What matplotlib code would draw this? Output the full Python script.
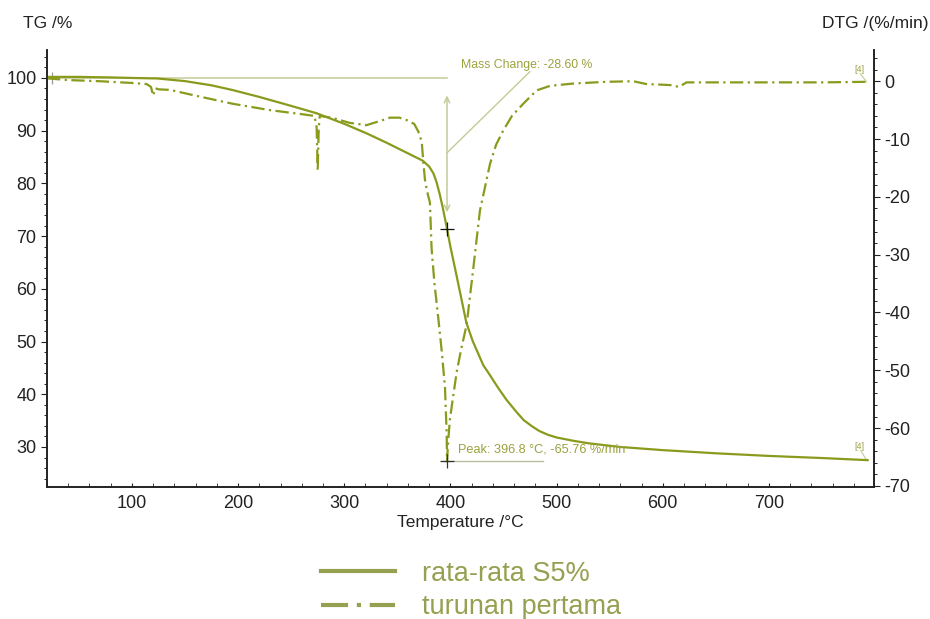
import matplotlib.pyplot as plt
from matplotlib.lines import Line2D
from matplotlib.ticker import MultipleLocator

plt.rcParams["font.family"] = ["Liberation Sans", "DejaVu Sans"]
plt.rcParams["axes.unicode_minus"] = False

# TG curve (left axis, %)
tg_temp = [20, 50, 80, 100, 124, 150, 175, 195, 220, 250, 274, 300, 321,
           340, 360, 374, 380, 384, 387, 390, 393, 396.8, 400, 406, 415, 421,
           431, 437, 445, 453, 462, 469, 477, 484, 492, 500, 515, 530, 560,
           600, 650, 700, 750, 793]
tg_mass = [100.2, 100.2, 100.1, 100.0, 99.9, 99.4, 98.6, 97.7, 96.4, 94.7,
           93.3, 91.3, 89.5, 87.7, 85.7, 84.3, 83.2, 81.9, 80.2, 77.9, 75.2,
           71.4, 68.0, 62.3, 53.6, 50.1, 45.5, 43.7, 41.2, 38.9, 36.7, 35.1,
           33.9, 33.0, 32.3, 31.8, 31.2, 30.7, 30.0, 29.4, 28.8, 28.3, 27.9,
           27.5]

# DTG curve (right axis, %/min)
dtg_temp = [20, 40, 70, 100, 114, 118, 120, 122, 125, 136, 160, 195, 230,
            260, 272, 274, 275, 276, 277, 280, 288, 305, 321, 335, 343, 352,
            360, 366, 370, 373, 374.5, 376, 378, 380.7, 382.3, 385, 388.6,
            392, 394.9, 396.5, 396.8, 398, 399.6, 403, 405.9, 410, 415.3,
            421.6, 427.8, 437.3, 443, 449.8, 458, 468.6, 481.1, 493.8, 515.7,
            547, 572.3, 584.9, 600, 609.9, 615, 622.4, 650, 700, 750, 793]
dtg_rate = [0.5, 0.2, 0.0, -0.3, -0.5, -1.0, -2.5, -1.2, -1.4, -1.5, -2.5,
            -3.9, -5.0, -5.7, -6.0, -8.0, -15.5, -8.0, -6.0, -6.1, -6.3,
            -7.2, -7.6, -6.8, -6.3, -6.3, -6.8, -7.4, -8.8, -10.5, -14.0,
            -17.0, -19.0, -21.0, -29.0, -35.0, -41.0, -47.0, -53.0, -61.0,
            -65.76, -62.0, -58.4, -54.0, -50.3, -46.5, -42.1, -32.3, -22.4,
            -14.3, -11.0, -8.5, -6.0, -3.9, -1.6, -0.8, -0.4, -0.1, 0.0,
            -0.5, -0.6, -0.7, -1.0, -0.2, -0.2, -0.2, -0.2, -0.1]

peak_temp = 396.8
peak_rate = -65.76
mass_start = 100.0
mass_at_peak = 71.4
labels = ["rata-rata S5%", "turunan pertama"]

LINE = "#8a9a1c"
LIGHT = "#c3cb96"
TEXT_OLIVE = "#9ba23e"
LEG = "#96a050"

fig = plt.figure(figsize=(9.3, 6.19), dpi=100)
ax = fig.add_axes([0.0505, 0.2132, 0.8893, 0.706])
ax2 = ax.twinx()

ax.plot(tg_temp, tg_mass, color=LINE, lw=1.6, zorder=3)
ax2.plot(dtg_temp, dtg_rate, color=LINE, lw=1.6, dashes=(6, 2, 1, 2))

ax.set_xlim(20, 799)
ax.set_ylim(22.4, 105.3)
ax2.set_ylim(-70.2, 5.4)

ax.spines["top"].set_visible(False)
ax2.spines["top"].set_visible(False)
for a in (ax, ax2):
    for s in a.spines.values():
        s.set_color("#222222")
        s.set_linewidth(1.2)

ax.xaxis.set_major_locator(MultipleLocator(100))
ax.xaxis.set_minor_locator(MultipleLocator(20))
ax.yaxis.set_major_locator(MultipleLocator(10))
ax.yaxis.set_minor_locator(MultipleLocator(2))
ax2.yaxis.set_major_locator(MultipleLocator(10))
ax2.yaxis.set_minor_locator(MultipleLocator(2))

ax.tick_params(axis="x", which="both", direction="in", length=3,
               labelsize=13, colors="#222222", pad=6)
ax.tick_params(axis="y", which="major", direction="out", length=4,
               labelsize=13, colors="#222222")
ax.tick_params(axis="y", which="minor", direction="out", length=2)
ax2.tick_params(axis="y", which="major", direction="out", length=4,
                labelsize=13, colors="#222222")
ax2.tick_params(axis="y", which="minor", direction="out", length=2)
ax.set_xticks([t for t in ax.get_xticks() if 100 <= t <= 700])

ax.set_xlabel("Temperature /°C", fontsize=12.5, color="#222222", labelpad=2)
fig.text(0.025, 0.962, "TG /%", fontsize=12.5, color="#222222", va="center")
fig.text(0.998, 0.962, "DTG /(%/min)", fontsize=12.5, color="#222222",
         va="center", ha="right")

# mass change annotation
ax.plot([25, peak_temp], [mass_start, mass_start], color=LIGHT, lw=1.1,
        zorder=2)
ax.annotate("", xy=(peak_temp, 74.0), xytext=(peak_temp, 97.2),
            arrowprops=dict(arrowstyle="<->", color=LIGHT, lw=1.1,
                            mutation_scale=10))
ax.plot([peak_temp, 474.9], [85.8, 101.2], color=LIGHT, lw=1.0)
ax.text(409.7, 102.5, "Mass Change: -28.60 %", fontsize=8.8,
        color=TEXT_OLIVE, va="center")
ax.plot(peak_temp, mass_at_peak, marker="+", color="#111111", ms=10,
        mew=0.9, zorder=5)
ax.plot(25, mass_start, marker="+", color="#999999", ms=8, mew=0.9)

# peak annotation
ax2.plot([391.7, 487], [peak_rate, peak_rate], color="#b8bfa0", lw=1.0)
ax2.plot(peak_temp, peak_rate, marker="+", color="#333333", ms=10,
         mew=0.9, zorder=5)
ax2.text(407.4, -64.7, "Peak: 396.8 °C, -65.76 %/min", fontsize=9.2,
         color=TEXT_OLIVE, va="bottom")

# curve end markers
ax2.text(785, 1.2, "[4]", fontsize=6.5, color=TEXT_OLIVE, ha="center",
         va="bottom")
ax2.plot([786, 792], [1.3, -0.1], color=LIGHT, lw=0.8)
ax.text(785.5, 29.2, "[4]", fontsize=6.5, color=TEXT_OLIVE, ha="center",
        va="bottom")
ax.plot([786.5, 792], [29.3, 27.5], color=LIGHT, lw=0.8)

handles = [Line2D([0], [0], color=LEG, lw=3.0),
           Line2D([0], [0], color=LEG, lw=3.0, dashes=(6.5, 2.1, 1, 2.1))]
fig.legend(handles, labels, loc="upper left", bbox_to_anchor=(0.333, 0.112),
           frameon=False, fontsize=19.5, handlelength=2.75,
           handletextpad=1.0, labelspacing=0.28, borderaxespad=0,
           labelcolor=LEG)

fig.savefig("out.png", dpi=100)
